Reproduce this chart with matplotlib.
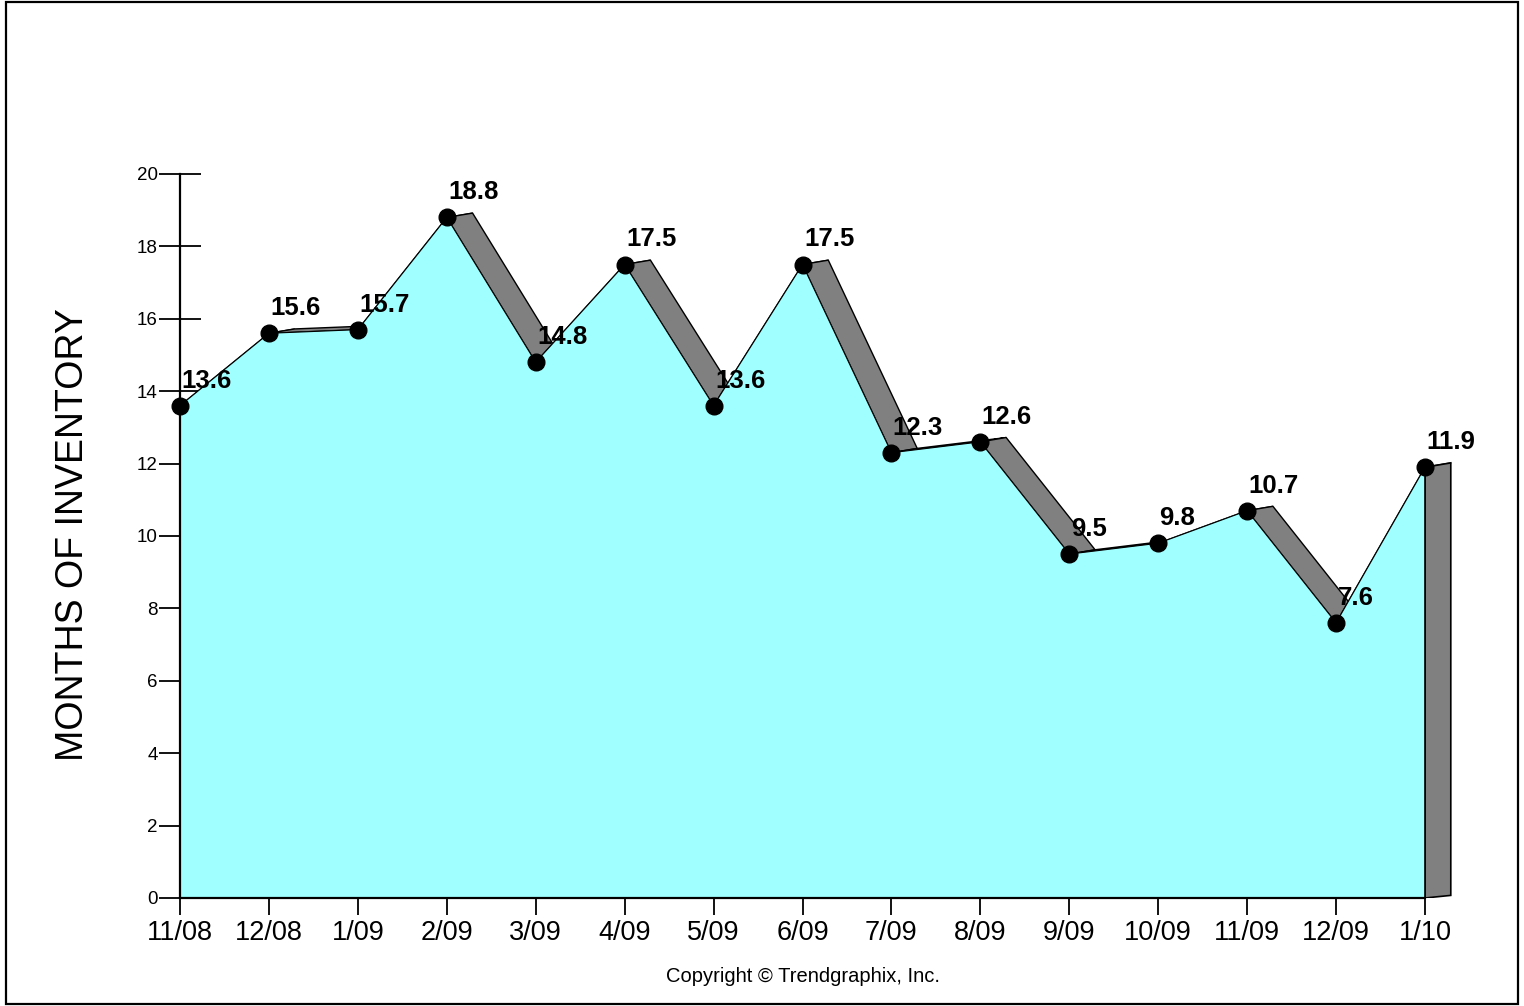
"""
Months of inventory, 11/08 - 1/10, drawn as a pseudo-3D area chart.
"""
import numpy as np
import matplotlib
matplotlib.use("Agg")
import matplotlib.pyplot as plt
from matplotlib.patches import Polygon, Rectangle

months = ["11/08", "12/08", "1/09", "2/09", "3/09", "4/09", "5/09", "6/09",
          "7/09", "8/09", "9/09", "10/09", "11/09", "12/09", "1/10"]
inventory = [13.6, 15.6, 15.7, 18.8, 14.8, 17.5, 13.6, 17.5,
             12.3, 12.6, 9.5, 9.8, 10.7, 7.6, 11.9]
y_ticks = [0, 2, 4, 6, 8, 10, 12, 14, 16, 18, 20]

# depth offset of the fake 3D ribbon, in data units
DX, DY = 0.29, 0.12
CYAN = "#A0FFFF"
GRAY = "#808080"

plt.rcParams['font.family'] = ['Liberation Sans', 'DejaVu Sans']

W, H = 1524, 1006
fig = plt.figure(figsize=(W / 100, H / 100), dpi=100)

# frame around the whole picture
fig.patches.append(Rectangle((6 / W, 0.002), 1512 / W, 0.996, transform=fig.transFigure,
                             fill=False, edgecolor="black", linewidth=1.6))

x = np.arange(len(inventory))
y = np.array(inventory)

ax = fig.add_axes([180 / W, (H - 898) / H, (1245 / 14 * 15) / W, 724 / H])
ax.set_xlim(0, 15)
ax.set_ylim(0, 20)

# ribbons (top face) between each pair of points, painter's order left to right
for i in range(len(x) - 1):
    poly = [(x[i], y[i]), (x[i + 1], y[i + 1]),
            (x[i + 1] + DX, y[i + 1] + DY), (x[i] + DX, y[i] + DY)]
    ax.add_patch(Polygon(poly, closed=True, facecolor=GRAY, edgecolor="black",
                         linewidth=1.0, zorder=2.6 + i * 0.001))

# right side face
side = [(x[-1], 0), (x[-1], y[-1]), (x[-1] + DX, y[-1] + DY), (x[-1] + DX, DY * 0.6)]
ax.add_patch(Polygon(side, closed=True, facecolor=GRAY, edgecolor="black",
                     linewidth=1.2, zorder=2.7))

# front face
ax.fill_between(x, 0, y, facecolor=CYAN, edgecolor="none", zorder=3)
ax.plot([x[-1], x[-1]], [0, y[-1]], color="black", linewidth=1.2, zorder=3.1)
ax.plot(x, y, color="black", linewidth=0.8, zorder=3.2)
ax.plot(x, y, "o", color="black", markersize=12, zorder=3.5, clip_on=False)

for xi, yi in zip(x, y):
    ax.annotate(f"{yi:.1f}", (xi, yi), xytext=(1, 13), textcoords="offset points",
                ha="left", va="baseline", fontsize=18.5, fontweight="bold", zorder=4)

# axes styling
for s in ("top", "right"):
    ax.spines[s].set_visible(False)
ax.spines['left'].set_bounds(0, 20)
ax.spines['bottom'].set_bounds(0, 14)
ax.spines['left'].set_linewidth(1.6)
ax.spines['bottom'].set_linewidth(1.6)
ax.spines['left'].set_zorder(3.4)
ax.spines['bottom'].set_zorder(3.4)
ax.patch.set_alpha(0)

ax.set_yticks(y_ticks)
ax.set_yticklabels([str(t) for t in y_ticks], fontsize=13.5)
ax.tick_params(axis="y", direction="inout", length=30, width=1.3, pad=1)
ax.set_xticks(x)
ax.set_xticklabels(months, fontsize=19.5)
ax.tick_params(axis="x", direction="out", length=12, width=1.3, pad=4)

fig.text(73 / W, 1 - 535 / H, "MONTHS OF INVENTORY", rotation=90,
         ha="center", va="center", fontsize=27)
fig.text(803 / W, 1 - 976 / H, "Copyright \u00a9 Trendgraphix, Inc.",
         ha="center", va="center", fontsize=14.5)

fig.savefig("out.png", dpi=100)
